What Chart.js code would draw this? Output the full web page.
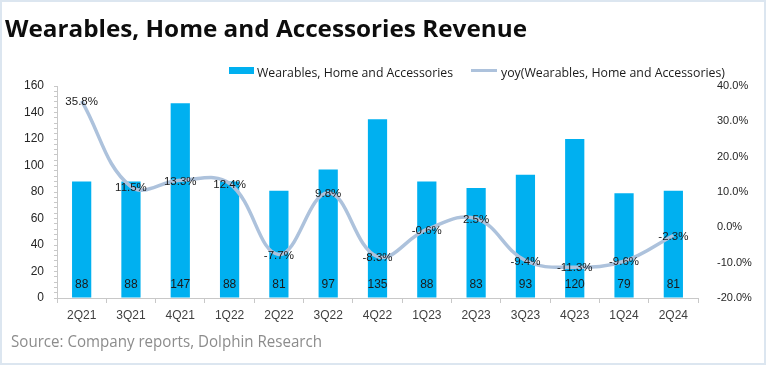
<!DOCTYPE html>
<html>
<head>
<meta charset="utf-8">
<script src="https://cdn.jsdelivr.net/npm/chart.js@4"></script>
<style>
  html, body { margin: 0; padding: 0; background: #fff; }
  #wrap { position: relative; width: 766px; height: 365px; overflow: hidden; background: #fff; }
  #c { position: absolute; left: 0; top: 0; }
  .txt { position: absolute; white-space: nowrap; transform-origin: 0 50%; line-height: 1; }
  #title { left: 5px; top: 11px; font: 700 24px "Open Sans", sans-serif; color: #0d0d0d; }
  #source { left: 11px; top: 330px; font: 400 16px "Open Sans", sans-serif; color: #8c8c8c; }
  .leg { font: 400 12px "Open Sans", sans-serif; color: #1a1a1a; }
  #frame { position: absolute; left: 0; top: 0; width: 766px; height: 365px; box-sizing: border-box; border: 2px solid #dce6f0; pointer-events: none; }
  .swatch { position: absolute; }
</style>
</head>
<body>
<div id="wrap">
  <canvas id="c" width="766" height="365"></canvas>
  <div class="txt" id="title" data-w="522">Wearables, Home and Accessories Revenue</div>
  <div class="swatch" style="left:229px;top:67px;width:25px;height:7px;background:#00B0F0"></div>
  <div class="txt leg" id="leg1" style="left:257px;top:64px" data-w="196">Wearables, Home and Accessories</div>
  <div class="swatch" style="left:471px;top:68.5px;width:26px;height:3px;background:#adc2dc"></div>
  <div class="txt leg" id="leg2" style="left:501px;top:64px" data-w="224">yoy(Wearables, Home and Accessories)</div>
  <div class="txt" id="source" data-w="311">Source: Company reports, Dolphin Research</div>
  <div id="frame"></div>
</div>
<script>
// ---- data ----
const categories = ["2Q21","3Q21","4Q21","1Q22","2Q22","3Q22","4Q22","1Q23","2Q23","3Q23","4Q23","1Q24","2Q24"];
const revenue = [88, 88, 147, 88, 81, 97, 135, 88, 83, 93, 120, 79, 81];
const yoy = [35.8, 11.5, 13.3, 12.4, -7.7, 9.8, -8.3, -0.6, 2.5, -9.4, -11.3, -9.6, -2.3];
const barName = "Wearables, Home and Accessories";
const lineName = "yoy(Wearables, Home and Accessories)";

// fit text widths
document.querySelectorAll('.txt[data-w]').forEach(el => {
  const w = el.getBoundingClientRect().width;
  const t = parseFloat(el.dataset.w);
  if (w > 0) el.style.transform = 'scaleX(' + (t / w) + ')';
});

const labelPlugin = {
  id: 'labels',
  afterDatasetsDraw(chart) {
    const ctx = chart.ctx;
    ctx.save();
    ctx.textAlign = 'center';
    ctx.textBaseline = 'middle';
    ctx.fillStyle = '#1a1a1a';
    const barMeta = chart.getDatasetMeta(1);
    const yBottom = chart.scales.y.getPixelForValue(0);
    ctx.font = '12px "Liberation Sans", Arial, sans-serif';
    barMeta.data.forEach((el, i) => {
      ctx.fillText(String(revenue[i]), el.x, yBottom - 13);
    });
    const lineMeta = chart.getDatasetMeta(0);
    ctx.font = '11.5px "Liberation Sans", Arial, sans-serif';
    lineMeta.data.forEach((el, i) => {
      ctx.fillText(yoy[i].toFixed(1) + '%', el.x, el.y + 1);
    });
    ctx.restore();
  }
};

new Chart(document.getElementById('c'), {
  type: 'bar',
  data: {
    labels: categories,
    datasets: [
      {
        type: 'line', label: lineName, data: yoy, yAxisID: 'y1', order: 0,
        borderColor: '#adc2dc', borderWidth: 3.5, tension: 0.4, pointRadius: 0, fill: false
      },
      {
        type: 'bar', label: barName, data: revenue, yAxisID: 'y', order: 1,
        backgroundColor: '#00B0F0', categoryPercentage: 1, barPercentage: 0.39
      }
    ]
  },
  options: {
    responsive: false,
    animation: false,
    events: [],
    layout: { padding: { left: 8, right: 8, top: 86, bottom: 37 } },
    plugins: { legend: { display: false }, tooltip: { enabled: false } },
    scales: {
      x: {
        offset: true,
        grid: { display: true, drawOnChartArea: false, offset: true, color: '#c8c8c8', tickLength: 5 },
        border: { color: '#c8c8c8' },
        ticks: { color: '#404040', font: { family: '"Liberation Sans", Arial, sans-serif', size: 12 }, padding: 5, maxRotation: 0, autoSkip: false },
        afterFit(s) { s.height = 30; }
      },
      y: {
        position: 'left', min: 0, max: 160,
        grid: { display: true, drawOnChartArea: false, color: '#c8c8c8', tickLength: 3 },
        border: { color: '#c8c8c8' },
        ticks: {
          stepSize: 4, autoSkip: false, color: '#262626',
          font: { family: '"Liberation Sans", Arial, sans-serif', size: 12 }, padding: 10,
          callback: v => (v % 20 === 0 ? String(v) : '')
        },
        afterFit(s) { s.width = 49; }
      },
      y1: {
        position: 'right', min: -20, max: 40,
        grid: { display: false },
        border: { display: false },
        ticks: {
          stepSize: 10, color: '#262626',
          font: { family: '"Liberation Sans", Arial, sans-serif', size: 11 }, padding: 11,
          callback: v => v.toFixed(1) + '%'
        },
        afterFit(s) { s.width = 60; }
      }
    }
  },
  plugins: [labelPlugin]
});
</script>
</body>
</html>
